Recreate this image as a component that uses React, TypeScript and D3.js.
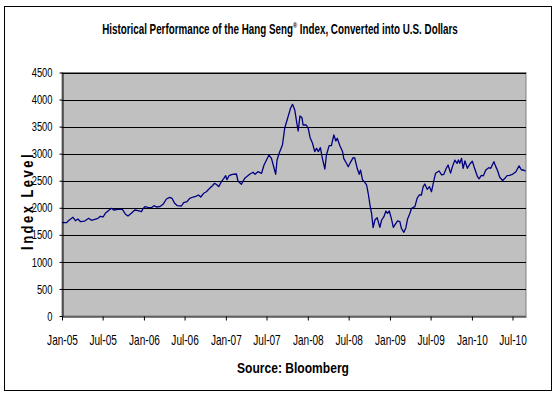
import { useEffect, useRef } from "react";
import * as d3 from "d3";

const dates = [
  "2005-01-01", "2005-01-22", "2005-01-28", "2005-02-19", "2005-03-02", "2005-03-13", "2005-03-25", "2005-04-12",
  "2005-04-30", "2005-05-12", "2005-05-27", "2005-06-10", "2005-06-21", "2005-07-03", "2005-07-13", "2005-07-25",
  "2005-08-09", "2005-08-19", "2005-09-08", "2005-09-27", "2005-10-11", "2005-10-22", "2005-11-06", "2005-11-21",
  "2005-12-06", "2005-12-21", "2005-12-28", "2006-01-05", "2006-01-19", "2006-02-03", "2006-02-15", "2006-02-26",
  "2006-03-12", "2006-03-27", "2006-04-11", "2006-04-26", "2006-05-06", "2006-05-18", "2006-05-30", "2006-06-17",
  "2006-06-27", "2006-07-12", "2006-07-24", "2006-08-08", "2006-08-20", "2006-09-01", "2006-09-11", "2006-09-24",
  "2006-10-06", "2006-10-21", "2006-11-02", "2006-11-12", "2006-11-23", "2006-11-30", "2006-12-12", "2006-12-23",
  "2006-12-31", "2007-01-06", "2007-01-15", "2007-01-30", "2007-02-17", "2007-02-24", "2007-03-11", "2007-03-26",
  "2007-04-17", "2007-05-02", "2007-05-11", "2007-05-24", "2007-06-09", "2007-06-20", "2007-07-01", "2007-07-12",
  "2007-07-23", "2007-08-02", "2007-08-11", "2007-08-17", "2007-08-29", "2007-09-10", "2007-09-20", "2007-10-05",
  "2007-10-16", "2007-10-25", "2007-11-04", "2007-11-12", "2007-11-19", "2007-11-27", "2007-12-06", "2007-12-11",
  "2007-12-25", "2008-01-03", "2008-01-11", "2008-01-22", "2008-02-01", "2008-02-09", "2008-02-17", "2008-02-26",
  "2008-03-06", "2008-03-17", "2008-03-24", "2008-04-05", "2008-04-15", "2008-04-26", "2008-05-05", "2008-05-11",
  "2008-05-23", "2008-06-04", "2008-06-09", "2008-06-21", "2008-06-29", "2008-07-09", "2008-07-21", "2008-07-28",
  "2008-08-08", "2008-08-17", "2008-08-23", "2008-09-01", "2008-09-11", "2008-09-19", "2008-09-26", "2008-10-04",
  "2008-10-11", "2008-10-18", "2008-10-26", "2008-11-05", "2008-11-17", "2008-11-25", "2008-12-05", "2008-12-14",
  "2008-12-21", "2008-12-29", "2009-01-07", "2009-01-16", "2009-01-23", "2009-02-04", "2009-02-14", "2009-02-21",
  "2009-03-04", "2009-03-13", "2009-03-20", "2009-03-31", "2009-04-07", "2009-04-22", "2009-05-02", "2009-05-11",
  "2009-05-21", "2009-05-29", "2009-06-05", "2009-06-16", "2009-06-26", "2009-07-05", "2009-07-16", "2009-07-23",
  "2009-07-30", "2009-08-08", "2009-08-19", "2009-08-29", "2009-09-08", "2009-09-17", "2009-09-28", "2009-10-07",
  "2009-10-17", "2009-10-27", "2009-11-02", "2009-11-08", "2009-11-16", "2009-11-23", "2009-12-01", "2009-12-12",
  "2009-12-23", "2010-01-03", "2010-01-14", "2010-01-26", "2010-02-02", "2010-02-12", "2010-02-21", "2010-03-04",
  "2010-03-17", "2010-03-26", "2010-04-09", "2010-04-17", "2010-04-26", "2010-05-05", "2010-05-18", "2010-05-28",
  "2010-06-07", "2010-06-17", "2010-07-01", "2010-07-16", "2010-07-30", "2010-08-10", "2010-08-18", "2010-08-28",
];

const values = [
  1724, 1724, 1755, 1824, 1761, 1793, 1743, 1755,
  1805, 1768, 1787, 1805, 1842, 1830, 1898, 1940,
  1990, 1959, 1972, 1972, 1880, 1848, 1898, 1959,
  1946, 1928, 1983, 2020, 2008, 2002, 2039, 2014,
  2020, 2064, 2162, 2193, 2175, 2082, 2039, 2033,
  2094, 2112, 2175, 2199, 2212, 2236, 2199, 2268,
  2297, 2360, 2408, 2452, 2421, 2390, 2482, 2544,
  2593, 2519, 2593, 2619, 2624, 2495, 2434, 2544,
  2619, 2656, 2619, 2667, 2637, 2791, 2883, 2975,
  2914, 2759, 2619, 2883, 3037, 3160, 3469, 3683,
  3838, 3912, 3807, 3591, 3419, 3696, 3665, 3530,
  3530, 3469, 3300, 3191, 3037, 3099, 3037, 3111,
  2914, 2717, 2975, 3148, 3148, 3345, 3234, 3284,
  3148, 3037, 2914, 2822, 2759, 2840, 2926, 2920,
  2730, 2619, 2698, 2513, 2471, 2421, 2268, 2051,
  1898, 1632, 1774, 1817, 1639, 1774, 1835, 1940,
  1898, 1940, 1805, 1639, 1682, 1756, 1743, 1620,
  1547, 1632, 1787, 1898, 1990, 2020, 2175, 2236,
  2236, 2390, 2439, 2341, 2390, 2297, 2513, 2637,
  2656, 2680, 2610, 2619, 2720, 2791, 2640, 2770,
  2880, 2820, 2883, 2822, 2914, 2730, 2865, 2730,
  2810, 2860, 2715, 2574, 2535, 2600, 2590, 2698,
  2741, 2730, 2852, 2765, 2680, 2565, 2505, 2544,
  2593, 2600, 2619, 2667, 2775, 2698, 2700, 2675,
];

const yTicks = [0, 500, 1000, 1500, 2000, 2500, 3000, 3500, 4000, 4500];
const startDate = "2005-01-01";
const endDate = "2010-08-30";

const W = 557;
const H = 398;
const sans = "'Liberation Sans', Arial, sans-serif";
const K = 0.72; // horizontal squeeze to mimic Arial Narrow

export default function App() {
  const ref = useRef<SVGSVGElement | null>(null);

  useEffect(() => {
    if (!ref.current) return;
    const svg = d3.select(ref.current);
    svg.selectAll("*").remove();

    const parse = d3.timeParse("%Y-%m-%d");
    const pts = dates.map((d, i) => ({ date: parse(d) as Date, v: values[i] }));

    const left = 62, right = 526, top = 72.5, bottom = 316;

    const x = d3.scaleTime([parse(startDate) as Date, parse(endDate) as Date], [left, right]);
    const y = d3.scaleLinear([0, 4500], [bottom, top]);

    // chart border
    svg.append("rect")
      .attr("x", 4.5).attr("y", 6.5)
      .attr("width", 547).attr("height", 384)
      .attr("fill", "#fff").attr("stroke", "#000");

    // plot area
    svg.append("rect")
      .attr("x", left).attr("y", top)
      .attr("width", right - left).attr("height", bottom - top)
      .attr("fill", "#c0c0c0").attr("stroke", "#808080");

    // gridlines
    svg.append("g")
      .selectAll("line")
      .data(yTicks.filter((t) => t > 0))
      .join("line")
      .attr("x1", left).attr("x2", right)
      .attr("y1", (d) => Math.round(y(d)) + 0.5)
      .attr("y2", (d) => Math.round(y(d)) + 0.5)
      .attr("stroke", "#000");

    // series
    const line = d3.line<{ date: Date; v: number }>()
      .x((d) => x(d.date))
      .y((d) => y(d.v));
    svg.append("path")
      .datum(pts)
      .attr("d", line)
      .attr("fill", "none")
      .attr("stroke", "#000080")
      .attr("stroke-width", 1.3)
      .attr("stroke-linejoin", "round");

    // y axis
    const yAxis = svg.append("g")
      .attr("transform", `translate(${left + 0.5},0)`)
      .call(d3.axisLeft(y).tickValues(yTicks).tickSize(3).tickSizeOuter(0).tickFormat(d3.format("d")));
    yAxis.select(".domain").attr("stroke", "#000");
    yAxis.selectAll("text")
      .attr("font-family", sans)
      .attr("font-size", 13)
      .attr("fill", "#000")
      .attr("x", -10 / K)
      .attr("transform", `scale(${K},1)`);

    // x axis
    const xTicks = d3.timeMonth.every(6)!.range(parse(startDate) as Date, parse(endDate) as Date);
    const xAxis = svg.append("g")
      .attr("transform", `translate(0,${Math.round(bottom) + 0.5})`)
      .call(
        d3.axisBottom(x)
          .tickValues(xTicks)
          .tickSize(4)
          .tickSizeOuter(0)
          .tickFormat((d) => d3.timeFormat("%b-%y")(d as Date))
      );
    xAxis.select(".domain").attr("stroke", "#000");
    xAxis.selectAll("text")
      .attr("font-family", sans)
      .attr("font-size", 14)
      .attr("fill", "#000")
      .attr("y", 28.5)
      .attr("dy", 0)
      .attr("transform", `scale(${K},1)`);

    // helper: factor that squeezes a text to a target width
    const fit = (sel: d3.Selection<SVGTextElement, unknown, null, undefined>, target: number) => {
      const len = (sel.node() as SVGTextElement).getComputedTextLength();
      return len > 0 ? target / len : 1;
    };

    // title
    const tg = svg.append("g").attr("transform", "translate(280,34)");
    const title = tg.append("text")
      .attr("text-anchor", "middle")
      .attr("font-family", sans)
      .attr("font-weight", "bold")
      .attr("font-size", 14)
      .attr("fill", "#000");
    title.append("tspan").text("Historical Performance of the Hang Seng");
    title.append("tspan").attr("font-size", 8).attr("dy", -6).text("®");
    title.append("tspan").attr("dy", 6).text(" Index, Converted into U.S. Dollars");
    title.attr("transform", `scale(${fit(title as any, 356)},1)`);

    // y title
    const yg = svg.append("g").attr("transform", "translate(33,201) rotate(-90)");
    const yt = yg.append("text")
      .attr("text-anchor", "middle")
      .attr("font-family", sans)
      .attr("font-weight", "bold")
      .attr("font-size", 16)
      .attr("letter-spacing", 3)
      .attr("fill", "#000")
      .text("Index Level");
    yt.attr("transform", `scale(${fit(yt as any, 98)},1)`);

    // x title
    const sg = svg.append("g").attr("transform", "translate(293,373)");
    const st = sg.append("text")
      .attr("text-anchor", "middle")
      .attr("font-family", sans)
      .attr("font-weight", "bold")
      .attr("font-size", 14.5)
      .attr("fill", "#000")
      .text("Source: Bloomberg");
    st.attr("transform", `scale(${fit(st as any, 112)},1)`);
  }, []);

  return (
    <svg
      ref={ref}
      width={W}
      height={H}
      style={{ position: "absolute", left: 0, top: 0, background: "#fff" }}
    />
  );
}
